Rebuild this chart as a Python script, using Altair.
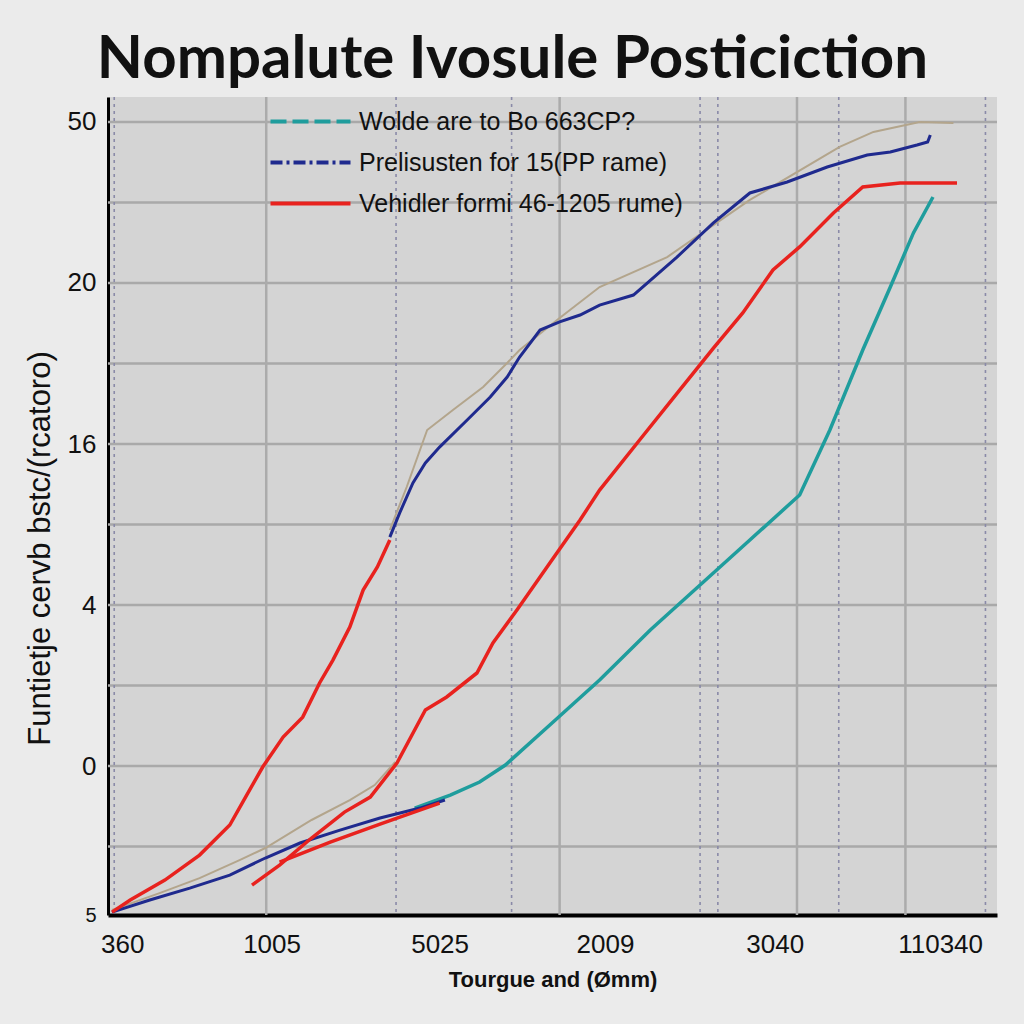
import altair as alt
import pandas as pd

# ---------------- text ----------------
title_text = "Nompalute Ivosule Posticiction"
x_title = "Tourgue and (Ømm)"
y_title = "Funtietje cervb bstc/(rcatoro)"

series_names = ["Wolde are to Bo 663CP?", "Prelisusten for 15(PP rame)", "Vehidler formi 46-1205 rume)"]
series_colors = ["#1f9d9d", "#1f2a8e", "#e8221e"]
series_dash = [[16, 6], [12, 4, 3, 4], [1, 0]]
tan_color = "#b3a58c"

# ---------------- tick labels ----------------
x_tick_values = [1.6, 18.4, 37.3, 55.9, 75.0, 93.6]
x_tick_labels = ["360", "1005", "5025", "2009", "3040", "110340"]
y_tick_values = [-0.925, 0, 1, 2, 3, 4]
y_tick_labels = ["5", "0", "4", "16", "20", "50"]

grid_y = [-0.5, 0, 0.5, 1, 1.5, 2, 2.5, 3, 3.5, 4]
grid_x_solid = [17.8, 50.8, 77.5, 89.7]
grid_x_dashed = [0.7, 32.4, 45.4, 66.6, 68.6, 82.2, 98.7]

# ---------------- series ----------------
tan_lower_x = [0.45, 5.8, 10.3, 14.8, 17.7, 22.9, 27.2, 30.0, 32.3]
tan_lower_y = [-0.894, -0.789, -0.696, -0.584, -0.509, -0.335, -0.211, -0.118, 0.025]
tan_upper_x = [31.7, 33.6, 35.9, 38.8, 42.2, 44.9, 46.3, 50.8, 55.3, 62.9, 72.2, 82.3, 86.1, 91.3, 95.1]
tan_upper_y = [1.466, 1.733, 2.087, 2.211, 2.354, 2.503, 2.584, 2.783, 2.975, 3.161, 3.516, 3.845, 3.938, 4.000, 3.994]

navy_lower_x = [0.45, 4.7, 9.2, 13.7, 17.7, 21.6, 26.1, 30.6, 35.1, 37.9]
navy_lower_y = [-0.907, -0.832, -0.758, -0.677, -0.571, -0.478, -0.398, -0.323, -0.261, -0.211]
navy_upper_x = [31.7, 32.8, 34.3, 35.7, 37.3, 40.4, 43.0, 44.9, 46.3, 48.6, 50.8, 53.1,
                55.3, 59.1, 64.0, 68.1, 72.2, 76.4, 80.9, 85.4, 88.0, 91.0, 92.2, 92.5]
navy_upper_y = [1.422, 1.571, 1.758, 1.882, 1.981, 2.149, 2.292, 2.416, 2.540, 2.708, 2.758, 2.801,
                2.863, 2.925, 3.161, 3.373, 3.559, 3.627, 3.720, 3.795, 3.814, 3.857, 3.876, 3.919]

red_steep_x = [0.45, 2.5, 6.4, 10.3, 13.7, 15.6, 17.4, 19.7, 21.9, 23.8, 25.3, 27.2, 28.7, 30.3, 31.7]
red_steep_y = [-0.907, -0.832, -0.708, -0.553, -0.366, -0.180, -0.006, 0.180, 0.304, 0.516, 0.658,
               0.863, 1.093, 1.236, 1.404]
red_mid_x = [16.2, 19.3, 22.9, 26.6, 29.5, 32.5, 35.7, 38.1, 41.5, 43.3, 46.0, 49.7, 53.1, 55.3,
             59.8, 64.3, 68.1, 71.4, 74.8, 77.8, 81.6, 84.9, 89.1, 95.5]
red_mid_y = [-0.739, -0.615, -0.447, -0.286, -0.193, 0.019, 0.348, 0.429, 0.578, 0.764, 0.969, 1.261,
             1.528, 1.714, 2.025, 2.335, 2.596, 2.814, 3.081, 3.224, 3.435, 3.596, 3.621, 3.621]
red_thin_x = [19.3, 25.0, 30.6, 37.3]
red_thin_y = [-0.596, -0.472, -0.360, -0.230]

teal_x = [34.5, 38.5, 41.8, 44.7, 49.7, 55.3, 61.0, 66.6, 72.2, 77.8, 81.2, 84.9, 88.0, 90.6, 92.8]
teal_y = [-0.261, -0.180, -0.099, 0.006, 0.255, 0.534, 0.845, 1.124, 1.404, 1.683, 2.087, 2.584,
          2.975, 3.311, 3.534]


def frame(name, seg, xs, ys):
    return pd.DataFrame({"x": xs, "y": ys, "series": name, "seg": seg, "i": range(len(xs))})


tan_df = pd.concat([frame("tan", "a", tan_lower_x, tan_lower_y),
                    frame("tan", "b", tan_upper_x, tan_upper_y)])
navy_df = pd.concat([frame(series_names[1], "a", navy_lower_x, navy_lower_y),
                     frame(series_names[1], "b", navy_upper_x, navy_upper_y)])
red_df = pd.concat([frame(series_names[2], "a", red_steep_x, red_steep_y),
                    frame(series_names[2], "b", red_mid_x, red_mid_y),
                    frame(series_names[2], "c", red_thin_x, red_thin_y)])
teal_df = frame(series_names[0], "a", teal_x, teal_y)
all_df = pd.concat([teal_df, navy_df, red_df])

FONT = "Liberation Sans"

x_scale = alt.Scale(domain=[0, 100], nice=False, zero=False)
y_scale = alt.Scale(domain=[-0.925, 4.155], nice=False, zero=False)

x_axis = alt.Axis(
    values=x_tick_values,
    labelExpr="%s[indexof(%s, datum.value)]" % (str(x_tick_labels), str(x_tick_values)),
    grid=False, ticks=False, domainColor="#000", domainWidth=4,
    labelFont=FONT, labelFontSize=26, labelColor="#111", labelPadding=16,
    title=x_title, titleFont=FONT, titleFontSize=22, titleFontWeight="bold",
    titleColor="#111", titlePadding=12, labelFlush=False,
)
y_axis = alt.Axis(
    values=y_tick_values,
    labelExpr="%s[indexof(%s, datum.value)]" % (str(y_tick_labels), str(y_tick_values)),
    grid=False, ticks=False, domainColor="#000", domainWidth=3,
    labelFont=FONT, labelFontSize=alt.ConditionalAxisNumber(
        condition={"test": "datum.value < -0.5", "value": 20}, value=26),
    labelColor="#111", labelPadding=12,
    title=y_title, titleFont=FONT, titleFontSize=31, titleFontWeight="normal",
    titleColor="#111", titleAngle=270, titleAlign="center", titleBaseline="middle",
    titleX=-68, titleY=451, labelFlush=False,
)

x_enc = alt.X("x:Q", scale=x_scale, axis=x_axis)
y_enc = alt.Y("y:Q", scale=y_scale, axis=y_axis)

legend = alt.Legend(
    title=None, orient="none", legendX=190, legendY=12,
    symbolType="M-4,0L4,0", symbolSize=400, symbolStrokeWidth=4,
    labelFont=FONT, labelFontSize=25, labelColor="#111", labelLimit=700,
    rowPadding=15, labelOffset=36,
)
color_enc = alt.Color("series:N", scale=alt.Scale(domain=series_names, range=series_colors), legend=legend)
dash_enc = alt.StrokeDash("series:N", scale=alt.Scale(domain=series_names, range=series_dash), legend=legend)

grid_h = alt.Chart(pd.DataFrame({"y": grid_y})).mark_rule(color="#a9a9a9", strokeWidth=2.5).encode(y=y_enc)
grid_vs = alt.Chart(pd.DataFrame({"x": grid_x_solid})).mark_rule(color="#ababab", strokeWidth=2.5).encode(x=x_enc)
grid_vd = alt.Chart(pd.DataFrame({"x": grid_x_dashed})).mark_rule(
    color="#8a8aa8", strokeWidth=1.6, strokeDash=[3, 4]).encode(x=x_enc)

tan_layer = alt.Chart(tan_df).mark_line(color=tan_color, strokeWidth=2).encode(
    x=x_enc, y=y_enc, detail="seg:N", order="i:Q")
teal_layer = alt.Chart(teal_df).mark_line(strokeWidth=3.5).encode(
    x=x_enc, y=y_enc, color=color_enc, detail="seg:N", order="i:Q")
navy_layer = alt.Chart(navy_df).mark_line(strokeWidth=3).encode(
    x=x_enc, y=y_enc, color=color_enc, detail="seg:N", order="i:Q")
red_layer = alt.Chart(red_df).mark_line(strokeWidth=3.5).encode(
    x=x_enc, y=y_enc, color=color_enc, detail="seg:N", order="i:Q")
legend_layer = alt.Chart(all_df).mark_line(strokeWidth=4).encode(
    x=x_enc, y=y_enc, color=color_enc, strokeDash=dash_enc, detail="seg:N"
).transform_filter("datum.x < -999")

chart = alt.layer(
    grid_h, grid_vs, grid_vd, tan_layer, teal_layer, navy_layer, red_layer, legend_layer
).properties(
    width=889, height=818,
    autosize=alt.AutoSizeParams(type="none"),
    padding={"left": 108, "top": 97, "right": 27, "bottom": 109},
    background="#ebebeb",
    title=alt.TitleParams(title_text, font="Lato", fontSize=60, fontWeight="bold",
                          color="#111", anchor="middle", offset=5, dx=-40),
).configure_view(fill="#d4d4d4", stroke=None)

chart.save("out.html", embed_options={"renderer": "svg", "actions": False})
